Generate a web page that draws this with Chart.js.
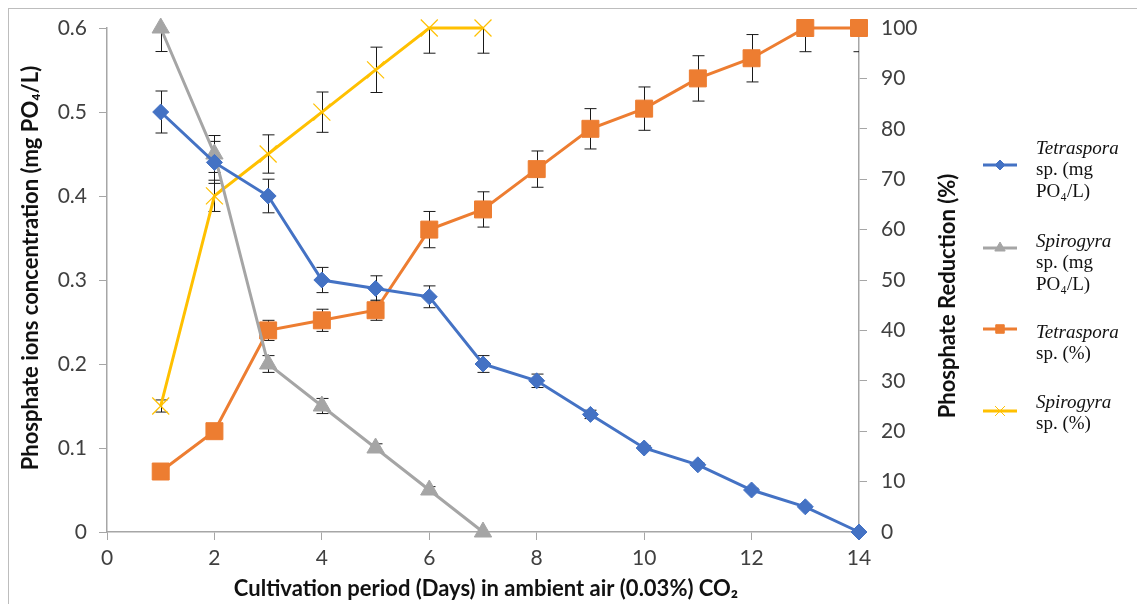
<!DOCTYPE html>
<html>
<head>
<meta charset="utf-8">
<script src="https://cdn.jsdelivr.net/npm/chart.js@4.4.0/dist/chart.umd.min.js"></script>
<style>
    html, body { margin: 0; padding: 0; background: #fff; }
    #wrap { position: relative; width: 1137px; height: 604px; }
    #frame { position: absolute; left: 8px; top: 8px; right: 0; bottom: 0; border-top: 1px solid #bdbdbd; border-left: 1px solid #bdbdbd; pointer-events: none; }
</style>
</head>
<body>
<div id="wrap">
    <canvas id="phosChart" width="1137" height="604"></canvas>
    <div id="frame"></div>
</div>
<script>
// days of cultivation
const days = [1, 2, 3, 4, 5, 6, 7, 8, 9, 10, 11, 12, 13, 14];
const spiroDays = [1, 2, 3, 4, 5, 6, 7];

// phosphate concentration (mg PO4/L)
const tetraMg = [0.50, 0.44, 0.40, 0.30, 0.29, 0.28, 0.20, 0.18, 0.14, 0.10, 0.08, 0.05, 0.03, 0.00];
const tetraMgErr = [0.025, 0.025, 0.02, 0.015, 0.015, 0.013, 0.01, 0.008, 0.005, 0.003, 0.002, 0.002, 0.002, 0];
const spiroMg = [0.60, 0.45, 0.20, 0.15, 0.10, 0.05, 0.00];
const spiroMgErr = [0.028, 0.022, 0.01, 0.009, 0.005, 0.004, 0];

// phosphate reduction (%)
const tetraPct = [12, 20, 40, 42, 44, 60, 64, 72, 80, 84, 90, 94, 100, 100];
const tetraPctErr = [0, 0, 2, 2.2, 2, 3.6, 3.5, 3.6, 4, 4.3, 4.5, 4.7, 4.7, 4.7];
const spiroPct = [25, 66.7, 75, 83.3, 91.7, 100, 100];
const spiroPctErr = [1.2, 3.1, 3.8, 4, 4.5, 5, 5];

// legend text, first line is the species name (italic)
const legendLines = [
    ["Tetraspora", "sp. (mg", "PO\u2084/L)"],
    ["Spirogyra", "sp. (mg", "PO\u2084/L)"],
    ["Tetraspora", "sp. (%)"],
    ["Spirogyra", "sp. (%)"]
];

const xTitle = "Cultivation period (Days) in ambient air (0.03%) CO\u2082";
const yTitle = "Phosphate ions concentration (mg PO\u2084/L)";
const y1Title = "Phosphate Reduction (%)";

function pts(xs, ys) {
    return xs.map((x, i) => ({ x: x, y: ys[i] }));
}

const SANS = "Lato, 'Open Sans', sans-serif";
const axisGray = "#a6a6a6";
const tickColor = "#404040";

// error bars drawn under the lines and markers
const errorBars = {
    id: "errorBars",
    beforeDatasetsDraw(chart) {
        const ctx = chart.ctx;
        const area = chart.chartArea;
        ctx.save();
        ctx.beginPath();
        ctx.rect(area.left, area.top - 1, area.right - area.left, area.bottom - area.top + 2);
        ctx.clip();
        ctx.strokeStyle = "#1a1a1a";
        ctx.lineWidth = 1;
        chart.data.datasets.forEach(function (ds) {
            const xs = chart.scales.x;
            const ys = chart.scales[ds.yAxisID];
            ds.data.forEach(function (p, j) {
                const e = ds.errors[j];
                if (!e) return;
                const px = Math.round(xs.getPixelForValue(p.x)) + 0.5;
                const top = ys.getPixelForValue(p.y + e);
                const bot = ys.getPixelForValue(p.y - e);
                ctx.beginPath();
                ctx.moveTo(px, top);
                ctx.lineTo(px, bot);
                ctx.moveTo(px - 6, top);
                ctx.lineTo(px + 6, top);
                ctx.moveTo(px - 6, bot);
                ctx.lineTo(px + 6, bot);
                ctx.stroke();
            });
        });
        ctx.restore();
    }
};

// axis titles (right one reads bottom to top like the left one)
const axisTitles = {
    id: "axisTitles",
    afterDraw(chart) {
        const ctx = chart.ctx;
        const area = chart.chartArea;
        ctx.save();
        ctx.fillStyle = "#111";
        ctx.font = "bold 22px " + SANS;
        ctx.textAlign = "center";
        ctx.textBaseline = "middle";
        ctx.fillText(xTitle, (area.left + area.right) / 2 + 3, 589);

        ctx.save();
        ctx.translate(31, 268);
        ctx.rotate(-Math.PI / 2);
        ctx.fillText(yTitle, 0, 0);
        ctx.restore();

        ctx.save();
        ctx.translate(948, 296);
        ctx.rotate(-Math.PI / 2);
        ctx.fillText(y1Title, 0, 0);
        ctx.restore();
        ctx.restore();
    }
};

// legend on the right with multi-line labels
const sideLegend = {
    id: "sideLegend",
    afterDraw(chart) {
        const ctx = chart.ctx;
        const textTop = [149, 242, 333, 403];
        const markY = [165, 248, 329, 411];
        const markSize = [5, 6, 6, 7];
        ctx.save();
        chart.data.datasets.forEach(function (ds, i) {
            const y = markY[i];
            ctx.strokeStyle = ds.borderColor;
            ctx.lineWidth = 3;
            ctx.beginPath();
            ctx.moveTo(983, y);
            ctx.lineTo(1017, y);
            ctx.stroke();
            ctx.fillStyle = ds.backgroundColor;
            ctx.strokeStyle = ds.borderColor;
            ctx.lineWidth = 1;
            Chart.helpers.drawPoint(ctx, { pointStyle: ds.pointStyle, radius: markSize[i], rotation: 0, borderWidth: 1 }, 1000, y);

            ctx.fillStyle = "#111";
            ctx.textAlign = "left";
            ctx.textBaseline = "middle";
            legendLines[i].forEach(function (line, k) {
                ctx.font = (k === 0 ? "italic " : "") + "19px 'Liberation Serif', serif";
                ctx.fillText(line, 1036, textTop[i] + k * 21.5);
            });
        });
        ctx.restore();
    }
};

new Chart("phosChart", {
    type: "line",
    data: {
        datasets: [{
            label: "Tetraspora sp. (mg PO4/L)",
            data: pts(days, tetraMg),
            errors: tetraMgErr,
            yAxisID: "y",
            borderColor: "#4472C4",
            backgroundColor: "#4472C4",
            borderWidth: 3,
            pointStyle: "rectRot",
            pointRadius: 8,
            pointBorderWidth: 1,
            clip: false
        }, {
            label: "Spirogyra sp. (mg PO4/L)",
            data: pts(spiroDays, spiroMg),
            errors: spiroMgErr,
            yAxisID: "y",
            borderColor: "#A5A5A5",
            backgroundColor: "#A5A5A5",
            borderWidth: 3,
            pointStyle: "triangle",
            pointRadius: 10,
            pointBorderWidth: 1,
            clip: false
        }, {
            label: "Tetraspora sp. (%)",
            data: pts(days, tetraPct),
            errors: tetraPctErr,
            yAxisID: "y1",
            borderColor: "#ED7D31",
            backgroundColor: "#ED7D31",
            borderWidth: 3,
            pointStyle: "rect",
            pointRadius: 12,
            pointBorderWidth: 1,
            clip: false
        }, {
            label: "Spirogyra sp. (%)",
            data: pts(spiroDays, spiroPct),
            errors: spiroPctErr,
            yAxisID: "y1",
            borderColor: "#FFC000",
            backgroundColor: "#FFC000",
            borderWidth: 3,
            pointStyle: "crossRot",
            pointRadius: 12,
            pointBorderWidth: 1.2,
            clip: false
        }]
    },
    options: {
        responsive: false,
        animation: false,
        layout: { padding: { top: 28, left: 0, right: 178, bottom: 0 } },
        plugins: {
            legend: { display: false },
            tooltip: { enabled: false }
        },
        elements: { line: { tension: 0 } },
        scales: {
            x: {
                type: "linear",
                min: 0,
                max: 14,
                ticks: { stepSize: 2, color: tickColor, font: { family: SANS, size: 21 }, padding: 6 },
                grid: { drawOnChartArea: false, tickLength: 8, color: axisGray },
                border: { color: axisGray, width: 1.5 },
                afterFit(s) { s.height = 72; }
            },
            y: {
                position: "left",
                min: 0,
                max: 0.6,
                ticks: { stepSize: 0.1, color: tickColor, font: { family: SANS, size: 21 }, padding: 12 },
                grid: { drawOnChartArea: false, tickLength: 8, color: axisGray },
                border: { color: axisGray, width: 1.5 },
                afterFit(s) { s.width = 107; }
            },
            y1: {
                position: "right",
                min: 0,
                max: 100,
                ticks: { stepSize: 10, color: tickColor, font: { family: SANS, size: 21 }, padding: 14 },
                grid: { drawOnChartArea: false, tickLength: 8, color: axisGray },
                border: { color: axisGray, width: 1.5 },
                afterFit(s) { s.width = 100; }
            }
        }
    },
    plugins: [errorBars, axisTitles, sideLegend]
});
</script>
</body>
</html>
